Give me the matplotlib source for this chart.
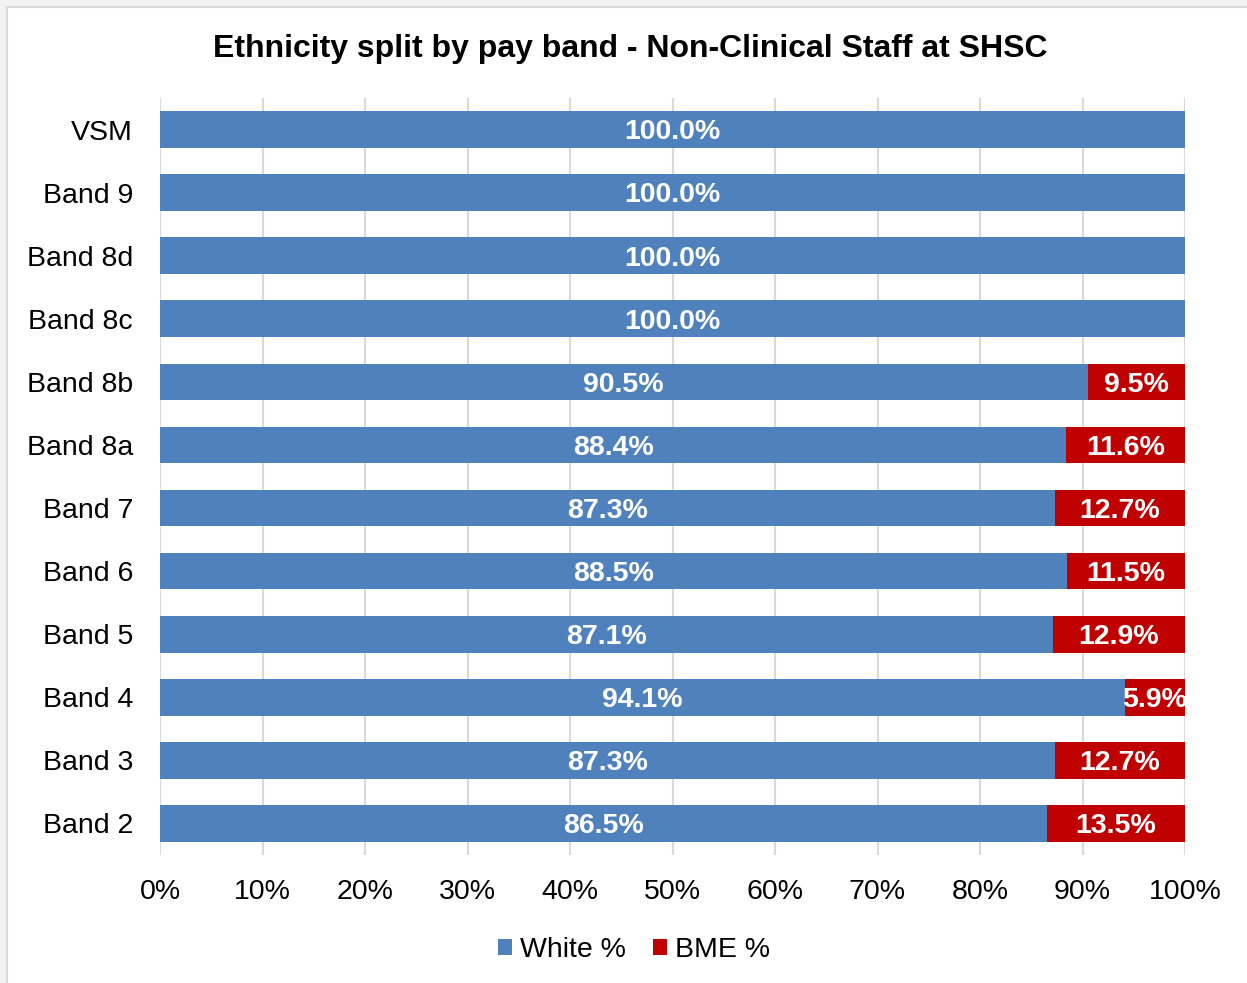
import matplotlib
matplotlib.use("Agg")
import matplotlib.pyplot as plt
from matplotlib.patches import Rectangle
import numpy as np

plt.rcParams['font.family'] = ['Liberation Sans', 'DejaVu Sans']

bands = ["VSM", "Band 9", "Band 8d", "Band 8c", "Band 8b", "Band 8a",
         "Band 7", "Band 6", "Band 5", "Band 4", "Band 3", "Band 2"]
white = [100.0, 100.0, 100.0, 100.0, 90.5, 88.4, 87.3, 88.5, 87.1, 94.1, 87.3, 86.5]
bme = [0.0, 0.0, 0.0, 0.0, 9.5, 11.6, 12.7, 11.5, 12.9, 5.9, 12.7, 13.5]
xticks = [0, 10, 20, 30, 40, 50, 60, 70, 80, 90, 100]

W, H = 1247, 983
fig = plt.figure(figsize=(W/100, H/100), dpi=100)
fig.patch.set_facecolor('#f2f2f2')
bg = Rectangle((7/W, -0.01), 1 - 7/W + 0.01, 1 - 7/H + 0.01, transform=fig.transFigure,
               facecolor='white', edgecolor='#d9d9d9', linewidth=1.5, zorder=-5)
fig.patches.append(bg)

ax = fig.add_axes([160/W, 1 - 855/H, (1185-160)/W, (855-98)/H])
ax.set_zorder(2)
ax.set_facecolor('none')
y = np.arange(len(bands))
blue = '#4f81bd'
red = '#c00000'
bh = 0.58
ax.barh(y, white, height=bh, color=blue, label='White %', zorder=2)
ax.barh(y, bme, left=white, height=bh, color=red, label='BME %', zorder=2)

fs = 20.5
for i in range(len(bands)):
    ax.text(white[i]/2, y[i] + 0.045, f"{white[i]:.1f}%", ha='center', va='center',
            color='white', fontsize=fs, fontweight='bold', zorder=3)
    if bme[i] > 0:
        ax.text(white[i] + bme[i]/2, y[i] + 0.045, f"{bme[i]:.1f}%", ha='center', va='center',
                color='white', fontsize=fs, fontweight='bold', zorder=3)

ax.set_ylim(len(bands) - 0.5, -0.5)
ax.set_xlim(0, 100)
ax.set_yticks(y)
ax.set_yticklabels(bands, fontsize=fs)
ax.set_xticks(xticks)
ax.set_xticklabels([f"{t}%" for t in xticks], fontsize=fs)
ax.tick_params(length=0)
ax.tick_params(axis='x', pad=17.5)
ax.tick_params(axis='y', pad=19.5)
for s in ax.spines.values():
    s.set_visible(False)
ax.xaxis.grid(True, color='#d9d9d9', linewidth=1.5, zorder=0)
ax.set_axisbelow(True)

fig.text(630/W, 1 - 49/H, "Ethnicity split by pay band - Non-Clinical Staff at SHSC",
         ha='center', va='center', fontsize=23, fontweight='bold')

leg = fig.legend(loc='center', bbox_to_anchor=(634/W, 1 - 950/H), ncol=2, frameon=False,
                 fontsize=fs, handlelength=0.5, handleheight=0.5, handletextpad=0.28,
                 columnspacing=0.95)

fig.savefig('out.png', dpi=100, facecolor=fig.get_facecolor())
